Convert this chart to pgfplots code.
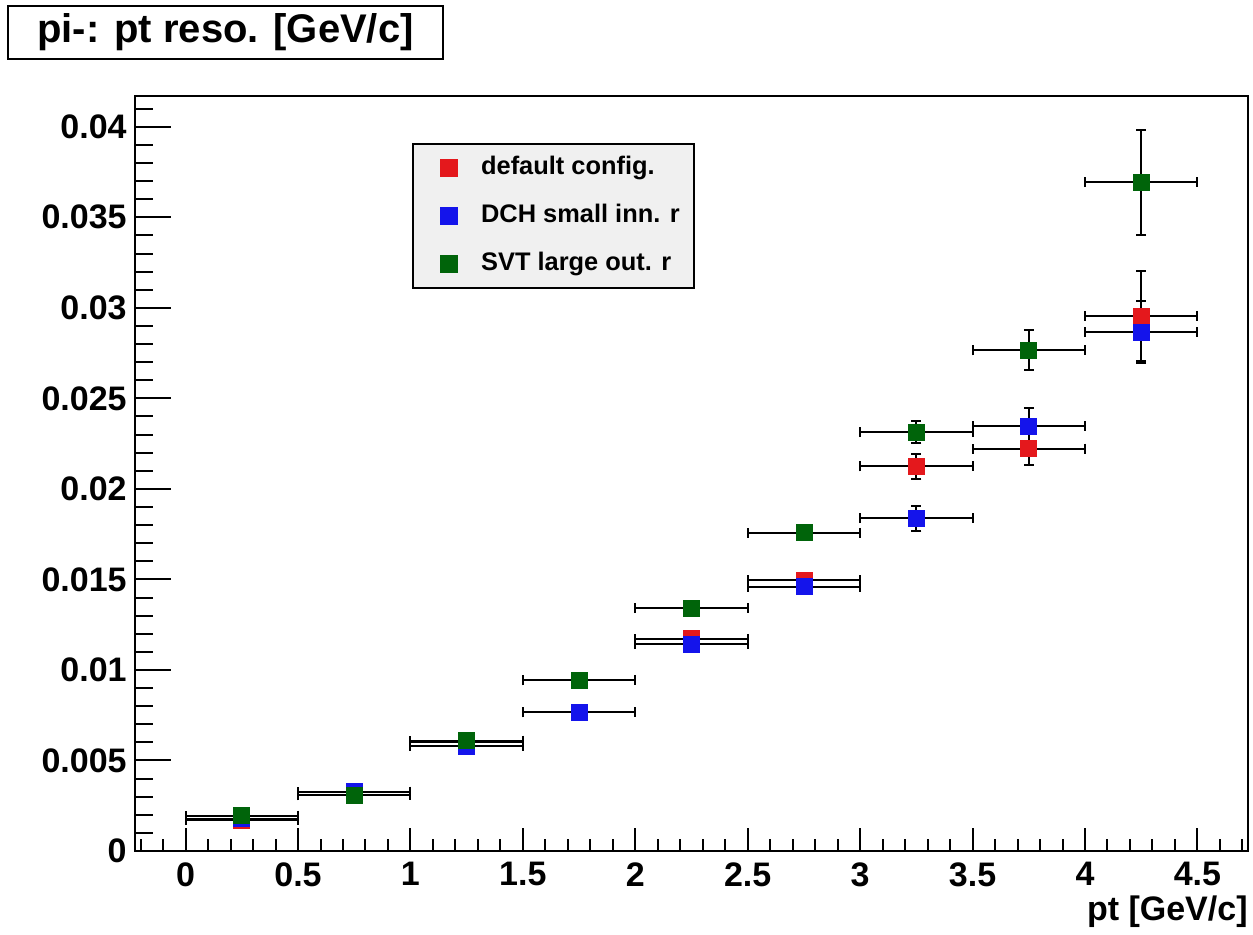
\documentclass[border=0pt]{standalone}
\usepackage{fontspec}
\setmainfont{Liberation Sans}
\usepackage{pgfplots}
\usepackage{pgfplotstable}
\pgfplotsset{compat=1.18}

\definecolor{rootred}{RGB}{228,24,28}
\definecolor{rootblue}{RGB}{20,20,235}
\definecolor{rootgreen}{RGB}{0,100,10}
\definecolor{legendfill}{RGB}{240,240,240}

% pt bin centre, resolution, half bin width, statistical error
\pgfplotstableread{
x    y        ex    ey
0.25 0.00170  0.25  0.0001
0.75 0.00325  0.25  0.0001
1.25 0.00600  0.25  0.0002
1.75 0.00945  0.25  0.0002
2.25 0.01172  0.25  0.0003
2.75 0.01495  0.25  0.0003
3.25 0.02125  0.25  0.0007
3.75 0.02222  0.25  0.0009
4.25 0.02955  0.25  0.0025
}\defaultcfg

\pgfplotstableread{
x    y        ex    ey
0.25 0.00178  0.25  0.0001
0.75 0.00328  0.25  0.0001
1.25 0.00580  0.25  0.0002
1.75 0.00766  0.25  0.0002
2.25 0.01142  0.25  0.0003
2.75 0.01460  0.25  0.0003
3.25 0.01838  0.25  0.0007
3.75 0.02345  0.25  0.0010
4.25 0.02866  0.25  0.0017
}\dchsmall

\pgfplotstableread{
x    y        ex    ey
0.25 0.00196  0.25  0.0001
0.75 0.00307  0.25  0.0001
1.25 0.00610  0.25  0.0002
1.75 0.00942  0.25  0.0002
2.25 0.01342  0.25  0.0003
2.75 0.01757  0.25  0.0003
3.25 0.02314  0.25  0.0006
3.75 0.02765  0.25  0.0011
4.25 0.03694  0.25  0.0029
}\svtlarge

\pgfplotsset{
  rootpoints/.style={
    only marks, mark=square*, mark size=4pt, color=#1,
    legend image code/.code={%
      \path[draw=none, fill=none] (-11pt,0pt) -- (14pt,0pt);
      \draw[##1] plot coordinates {(0pt,0pt)};},
    error bars/.cd,
      x dir=both, x explicit, y dir=both, y explicit,
      error mark=|,
      error bar style={black, line width=1pt},
      error mark options={black, line width=1pt, mark size=2.5pt},
  },
}

\begin{document}
\begin{tikzpicture}
\useasboundingbox (0,0) rectangle (626.5pt,467pt);
\node[draw=black, line width=1pt, fill=white, minimum width=217.5pt,
      minimum height=26.5pt, inner sep=0pt,
      font=\fontsize{20}{20}\selectfont\bfseries]
  at (112.75pt,450.75pt) {pi-: pt reso. [GeV/c]};
\begin{axis}[
  at={(67.5pt,41.5pt)}, anchor=south west,
  scale only axis, width=556.5pt, height=377.5pt,
  xmin=-0.225, xmax=4.725, ymin=0, ymax=0.0417,
  axis line style={line width=1pt},
  tick align=inside, xtick pos=bottom, ytick pos=left,
  xtick={0,0.5,1,1.5,2,2.5,3,3.5,4,4.5},
  minor xtick={-0.2,-0.1,0.1,0.2,0.3,0.4,0.6,0.7,0.8,0.9,1.1,1.2,1.3,1.4,
    1.6,1.7,1.8,1.9,2.1,2.2,2.3,2.4,2.6,2.7,2.8,2.9,3.1,3.2,3.3,3.4,
    3.6,3.7,3.8,3.9,4.1,4.2,4.3,4.4,4.6,4.7},
  ytick={0,0.005,0.01,0.015,0.02,0.025,0.03,0.035,0.04},
  minor ytick={0.001,0.002,0.003,0.004,0.006,0.007,0.008,0.009,
    0.011,0.012,0.013,0.014,0.016,0.017,0.018,0.019,
    0.021,0.022,0.023,0.024,0.026,0.027,0.028,0.029,
    0.031,0.032,0.033,0.034,0.036,0.037,0.038,0.039,0.041},
  xtick style={line width=1pt, black,
    /pgfplots/major tick length=11.5pt, /pgfplots/minor tick length=6pt},
  ytick style={line width=1pt, black,
    /pgfplots/major tick length=18pt, /pgfplots/minor tick length=9pt},
  scaled y ticks=false,
  xticklabel style={font=\fontsize{17}{17}\selectfont\bfseries, inner sep=0pt,
    yshift=-5.5pt, /pgf/number format/assume math mode=true},
  yticklabel style={font=\fontsize{17}{17}\selectfont\bfseries, inner sep=0pt,
    xshift=-4pt, /pgf/number format/fixed, /pgf/number format/precision=3,
    /pgf/number format/assume math mode=true},
  xlabel={pt [GeV/c]},
  xlabel style={at={(rel axis cs:1,0)}, anchor=north east, inner sep=0pt,
    yshift=-22pt, font=\fontsize{17}{17}\selectfont\bfseries},
  legend style={at={(rel axis cs:0.249,0.938)}, anchor=north west,
    draw=black, line width=1pt, fill=legendfill,
    font=\fontsize{12.7}{12.7}\selectfont\bfseries,
    inner xsep=7pt, inner ysep=6pt, row sep=11.3pt, column sep=2pt,
    nodes={inner sep=0pt, text height=9.5pt, text depth=3pt}},
  legend cell align=left,
]
\addplot[rootpoints=rootred] table[x=x, y=y, x error=ex, y error=ey] {\defaultcfg};
\addlegendentry{default config.}
\addplot[rootpoints=rootblue] table[x=x, y=y, x error=ex, y error=ey] {\dchsmall};
\addlegendentry{DCH small inn. r}
\addplot[rootpoints=rootgreen] table[x=x, y=y, x error=ex, y error=ey] {\svtlarge};
\addlegendentry{SVT large out. r}
\end{axis}
\end{tikzpicture}
\end{document}
